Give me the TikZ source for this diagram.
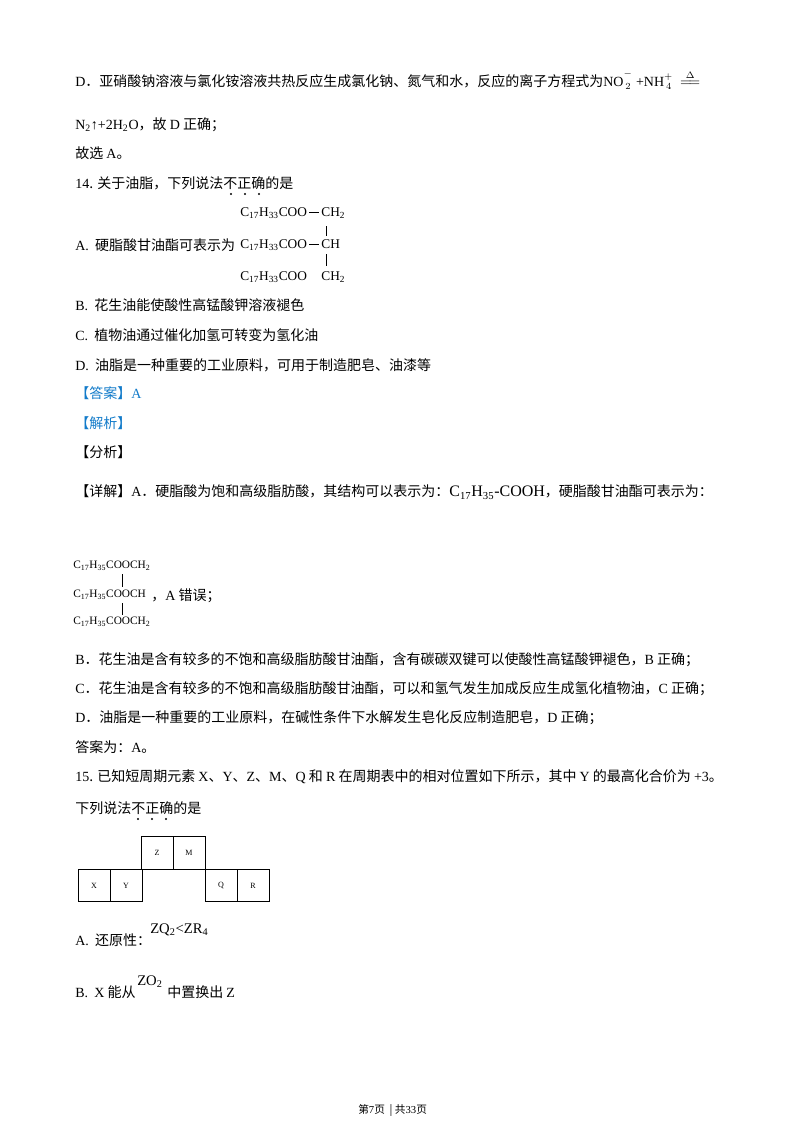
\documentclass[tikz,border=0pt]{standalone}
\usepackage{fontspec}
\setmainfont{Noto Sans CJK SC}
\newfontfamily\ser{Liberation Serif}
\newcommand{\sbs}[1]{\textsubscript{#1}}
\newcommand{\bnd}{\,\rule[0.3em]{0.75em}{0.45pt}\,}
\newcommand{\emdts}[2]{\foreach \xx in {#1}{\fill (\xx,#2) circle (0.9pt);}}
\begin{document}
\begin{tikzpicture}[x=0.75pt,y=-0.75pt,
  t/.style={anchor=west,inner sep=0pt,font=\fontsize{10.5pt}{12pt}\selectfont},
  f/.style={anchor=west,inner sep=0pt,font=\ser\fontsize{10pt}{12pt}\selectfont},
  bx/.style={draw,line width=0.6pt,minimum width=24pt,minimum height=24.5pt,inner sep=0pt,font=\ser\fontsize{6pt}{7pt}\selectfont}]
\useasboundingbox[fill=white] (0,0) rectangle (800,1132);
\node[t] (l1) at (75,80) {{\ser D}．亚硝酸钠溶液与氯化铵溶液共热反应生成氯化钠、氮气和水，反应的离子方程式为{\ser NO$^{\raisebox{3pt}{\scriptsize$-$}}_{\,2}$ +NH$^{+}_{\,4}$\ \ $\stackrel{\Delta}{=\!=}$}};
\node[t] (l2) at (75,125) {{\ser N\sbs{2}↑+2H\sbs{2}O}，故 {\ser D} 正确；};
\node[t] (l3) at (75,153) {故选 {\ser A}。};
\node[t] (q14) at (75,183) {{\ser 14}. 关于油脂，下列说法不正确的是};
\emdts{231,245,259}{194}
\node[f] (s1) at (240,213) {C\sbs{17}H\sbs{33}COO\bnd CH\sbs{2}};
\node[t] (a14) at (75,245) {{\ser A.}\ \ 硬脂酸甘油酯可表示为};
\node[f] (s2) at (240,245) {C\sbs{17}H\sbs{33}COO\bnd CH};
\node[f] (s3) at (240,277) {C\sbs{17}H\sbs{33}COO\phantom{\bnd}CH\sbs{2}};
\draw[line width=0.4pt] (326,226) -- (326,236) (326,254) -- (326,266);
\node[t] (b14) at (75,305) {{\ser B.}\ \ 花生油能使酸性高锰酸钾溶液褪色};
\node[t] (c14) at (75,335) {{\ser C.}\ \ 植物油通过催化加氢可转变为氢化油};
\node[t] (d14) at (75,365) {{\ser D.}\ \ 油脂是一种重要的工业原料，可用于制造肥皂、油漆等};
\node[t,text=cyan!60!blue] (ans) at (75,393) {【答案】{\ser A}};
\node[t,text=cyan!60!blue] (jx) at (75,423) {【解析】};
\node[t] (fx) at (75,452) {【分析】};
\node[t] (xj) at (75,492) {【详解】{\ser A}．硬脂酸为饱和高级脂肪酸，其结构可以表示为：{\ser\fontsize{12pt}{14pt}\selectfont C\sbs{17}H\sbs{35}-COOH}，硬脂酸甘油酯可表示为：};
\node[f,font=\ser\fontsize{8.5pt}{10pt}\selectfont] (d1) at (73,566) {C\sbs{17}H\sbs{35}COOCH\sbs{2}};
\node[f,font=\ser\fontsize{8.5pt}{10pt}\selectfont] (d2) at (73,595) {C\sbs{17}H\sbs{35}COOCH};
\node[f,font=\ser\fontsize{8.5pt}{10pt}\selectfont] (d3) at (73,622) {C\sbs{17}H\sbs{35}COOCH\sbs{2}};
\draw[line width=0.4pt] (122,574) -- (122,587) (122,603) -- (122,615);
\node[t] (ae) at (151,596) {，{\ser A} 错误；};
\node[t] (b2) at (75,660) {{\ser B}．花生油是含有较多的不饱和高级脂肪酸甘油酯，含有碳碳双键可以使酸性高锰酸钾褪色，{\ser B} 正确；};
\node[t] (c2) at (75,689) {{\ser C}．花生油是含有较多的不饱和高级脂肪酸甘油酯，可以和氢气发生加成反应生成氢化植物油，{\ser C} 正确；};
\node[t] (d2b) at (75,718) {{\ser D}．油脂是一种重要的工业原料，在碱性条件下水解发生皂化反应制造肥皂，{\ser D} 正确；};
\node[t] (aw) at (75,747) {答案为：{\ser A}。};
\node[t] (q15) at (75,777) {{\ser 15}. 已知短周期元素 {\ser X}、{\ser Y}、{\ser Z}、{\ser M}、{\ser Q} 和 {\ser R} 在周期表中的相对位置如下所示，其中 {\ser Y} 的最高化合价为 {\ser +3}。};
\node[t] (q15b) at (75,808) {下列说法不正确的是};
\emdts{138,152,166}{819}
\node[bx] (Z) at (157,853) {Z};
\node[bx] (M) at (189,853) {M};
\node[bx] (X) at (94,885.5) {X};
\node[bx] (Y) at (126,885.5) {Y};
\node[bx] (Q) at (221,885.5) {Q};
\node[bx] (R) at (253,885.5) {R};
\node[t] (a15) at (75,940) {{\ser A.}\ \ 还原性：};
\node[f,font=\ser\fontsize{11pt}{13pt}\selectfont] (a15f) at (150,930) {ZQ\sbs{2}<ZR\sbs{4}};
\node[t] (b15) at (75,992) {{\ser B.}\ \ {\ser X} 能从};
\node[f,font=\ser\fontsize{11pt}{13pt}\selectfont] (b15f) at (137,982) {ZO\sbs{2}};
\node[t] (b15b) at (167,992) {中置换出 {\ser Z}};
\node[t,font=\fontsize{8pt}{10pt}\selectfont] (ft) at (358,1110) {第{\ser 7}页\ \ |\ 共{\ser 33}页};
\end{tikzpicture}
\end{document}
